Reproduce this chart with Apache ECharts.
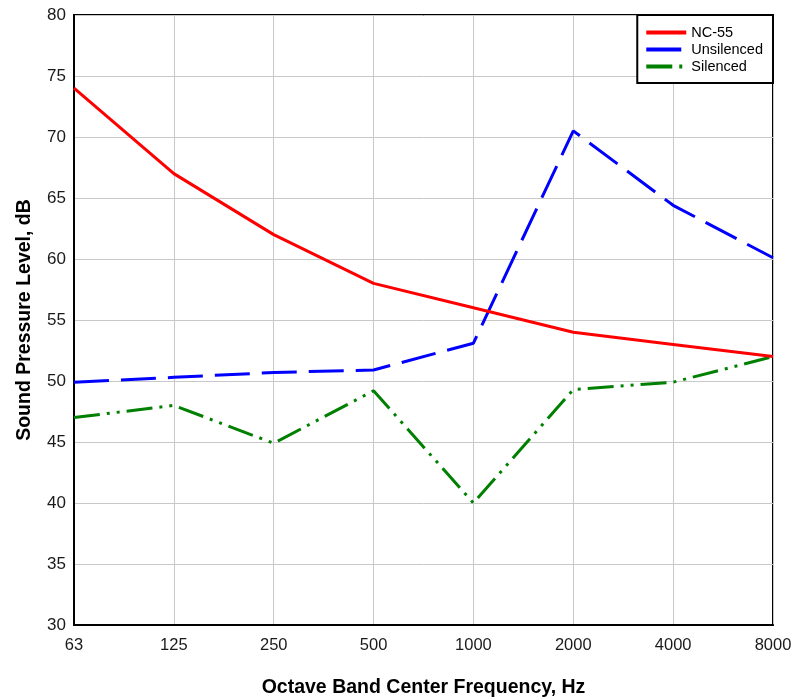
<!DOCTYPE html>
<html>
<head>
<meta charset="utf-8">
<script src="https://cdn.jsdelivr.net/npm/echarts@6/dist/echarts.min.js"></script>
<style>
html,body{margin:0;padding:0;background:#fff;}
#chart{width:794px;height:697px;}
</style>
</head>
<body>
<div id="chart"></div>
<script>
const categories = ['63','125','250','500','1000','2000','4000','8000'];
const nc55 = [74, 67, 62, 58, 56, 54, 53, 52];
const unsilenced = [49.9, 50.3, 50.7, 50.9, 53.1, 70.5, 64.4, 60.1];
const silenced = [47.0, 48.0, 44.9, 49.2, 40.0, 49.3, 49.9, 52.0];
const yMin = 30, yMax = 80, yStep = 5;

const chart = echarts.init(document.getElementById('chart'), null, {renderer:'canvas'});
const font = 'Liberation Sans, Arial, sans-serif';
chart.setOption({
  animation: false,
  backgroundColor: '#fff',
  textStyle: {fontFamily: font},
  grid: {left: 74, top: 15, right: 21, bottom: 72, show: true, borderColor: '#000', borderWidth: 2,
         backgroundColor: 'transparent', containLabel: false, outerBoundsMode: 'none'},
  legend: {
    right: 21, top: 15, orient: 'vertical',
    backgroundColor: '#fff', borderColor: '#000', borderWidth: 2,
    padding: [10, 10, 9, 7], itemGap: 2, itemWidth: 40, itemHeight: 12,
    itemStyle: {opacity: 0},
    lineStyle: {width: 4},
    textStyle: {fontSize: 14.5, color: '#000', fontFamily: font},
    data: ['NC-55', 'Unsilenced', 'Silenced']
  },
  xAxis: {
    type: 'category', data: categories, boundaryGap: false,
    name: 'Octave Band Center Frequency, Hz', nameLocation: 'middle', nameGap: 53,
    nameTextStyle: {fontSize: 19.5, fontWeight: 'bold', color: '#000'},
    axisLine: {show: true, lineStyle: {color: '#000', width: 2}},
    axisTick: {show: false},
    axisLabel: {fontSize: 16.5, color: '#1a1a1a', margin: 12},
    splitLine: {show: true, lineStyle: {color: '#c8c8c8', width: 1}}
  },
  yAxis: {
    type: 'value', min: yMin, max: yMax, interval: yStep,
    name: 'Sound Pressure Level, dB', nameLocation: 'middle', nameGap: 39,
    nameTextStyle: {fontSize: 19.5, fontWeight: 'bold', color: '#000'},
    axisLine: {show: true, lineStyle: {color: '#000', width: 2}},
    axisTick: {show: false},
    axisLabel: {fontSize: 17, color: '#1a1a1a', margin: 8},
    splitLine: {show: true, lineStyle: {color: '#c8c8c8', width: 1}}
  },
  series: [
    {name: 'NC-55', type: 'line', data: nc55, showSymbol: false, symbol: 'none',
     lineStyle: {color: '#ff0000', width: 3}, itemStyle: {color: '#ff0000'}, z: 3},
    {name: 'Unsilenced', type: 'line', data: unsilenced, showSymbol: false, symbol: 'none',
     lineStyle: {color: '#0000ff', width: 3, type: [35, 12]}, itemStyle: {color: '#0000ff'}, z: 2},
    {name: 'Silenced', type: 'line', data: silenced, showSymbol: false, symbol: 'none',
     lineStyle: {color: '#008000', width: 3, type: [26, 7, 3, 7, 3, 7]}, itemStyle: {color: '#008000'}, z: 2}
  ]
});
</script>
</body>
</html>
